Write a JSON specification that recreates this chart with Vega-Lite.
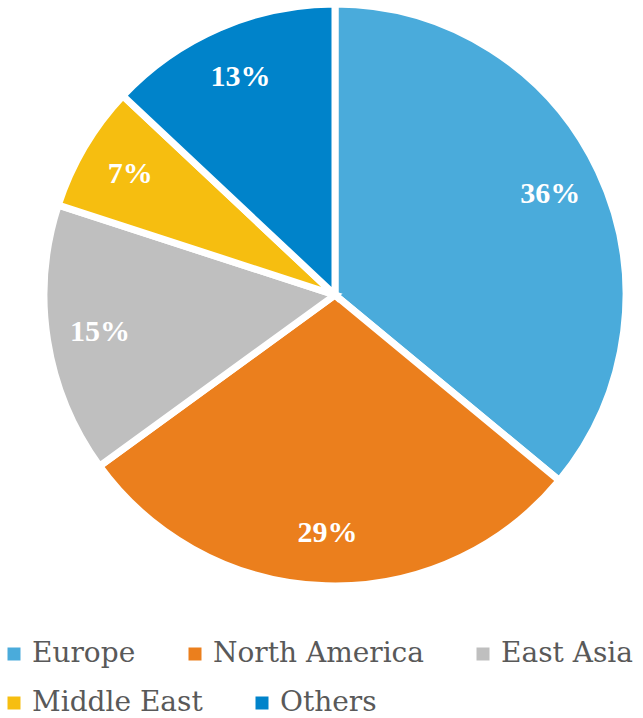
{
  "$schema": "https://vega.github.io/schema/vega-lite/v6.json",
  "width": 590,
  "height": 590,
  "autosize": {"type": "none"},
  "padding": {"left": 40, "top": 0, "right": 13, "bottom": 128},
  "background": "white",
  "view": {"stroke": null},
  "data": {
    "values": [
      {"region": "Europe", "share": 0.36, "rank": 1},
      {"region": "North America", "share": 0.29, "rank": 2},
      {"region": "East Asia", "share": 0.15, "rank": 3},
      {"region": "Middle East", "share": 0.07, "rank": 4},
      {"region": "Others", "share": 0.13, "rank": 5}
    ]
  },
  "encoding": {
    "theta": {"field": "share", "type": "quantitative", "stack": true},
    "order": {"field": "rank", "type": "quantitative", "sort": "ascending"}
  },
  "layer": [
    {
      "mark": {"type": "arc", "outerRadius": 291, "stroke": "white", "strokeWidth": 7},
      "encoding": {
        "color": {
          "field": "region",
          "type": "nominal",
          "sort": ["Europe", "North America", "East Asia", "Middle East", "Others"],
          "scale": {
            "domain": ["Europe", "North America", "East Asia", "Middle East", "Others"],
            "range": ["#4AABDB", "#EB7F1D", "#BFBFBF", "#F6BE10", "#0083CA"]
          },
          "legend": {
            "title": null,
            "values": ["Europe", "North America", "East Asia"],
            "orient": "none",
            "legendX": -40,
            "legendY": 640,
            "direction": "horizontal",
            "columnPadding": 45,
            "padding": 0,
            "symbolType": "square",
            "symbolSize": 169,
            "symbolStrokeWidth": 0,
            "symbolOpacity": 1,
            "labelFont": "DejaVu Serif",
            "labelFontSize": 28,
            "labelColor": "#595959",
            "labelOffset": 4,
            "labelLimit": 400
          }
        }
      }
    },
    {
      "mark": {"type": "arc", "outerRadius": 291, "stroke": "white", "strokeWidth": 7},
      "encoding": {
        "color": {
          "field": "region",
          "type": "nominal",
          "sort": ["Europe", "North America", "East Asia", "Middle East", "Others"],
          "scale": {
            "domain": ["Europe", "North America", "East Asia", "Middle East", "Others"],
            "range": ["#4AABDB", "#EB7F1D", "#BFBFBF", "#F6BE10", "#0083CA"]
          },
          "legend": {
            "title": null,
            "values": ["Middle East", "Others"],
            "orient": "none",
            "legendX": -40,
            "legendY": 689,
            "direction": "horizontal",
            "columnPadding": 45,
            "padding": 0,
            "symbolType": "square",
            "symbolSize": 169,
            "symbolStrokeWidth": 0,
            "symbolOpacity": 1,
            "labelFont": "DejaVu Serif",
            "labelFontSize": 28,
            "labelColor": "#595959",
            "labelOffset": 4,
            "labelLimit": 400
          }
        }
      }
    },
    {
      "mark": {"type": "text", "radius": 238, "font": "Liberation Serif", "fontWeight": "bold", "fontSize": 30, "fill": "white", "align": "center", "baseline": "middle"},
      "encoding": {
        "text": {"field": "share", "type": "quantitative", "format": ".0%"}
      }
    }
  ],
  "resolve": {"scale": {"color": "independent"}}
}
